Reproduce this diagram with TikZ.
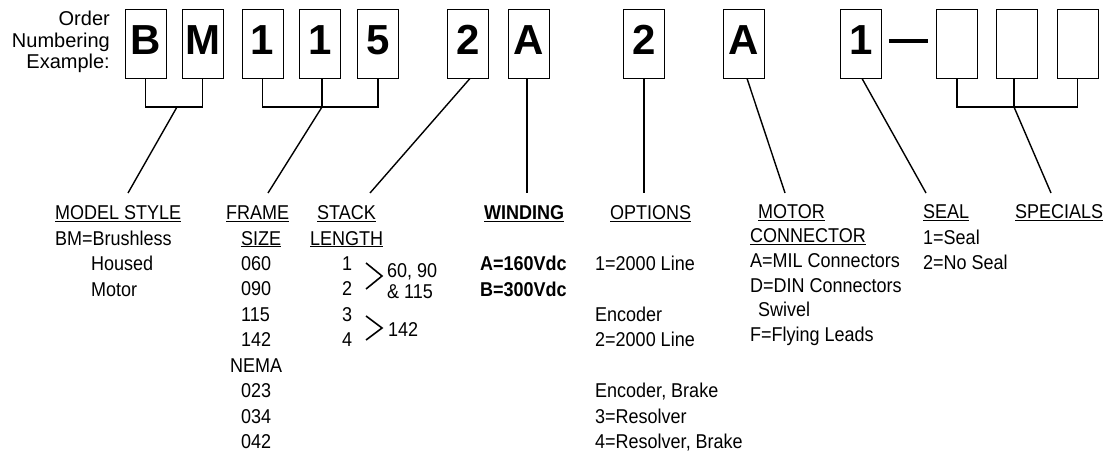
\documentclass[tikz,border=0pt]{standalone}
\usepackage{fontspec}
\setmainfont{Liberation Sans}
\newcommand{\nw}[1]{\scalebox{0.9}[1]{#1}}
\begin{document}
\begin{tikzpicture}[x=1pt,y=-1pt,
  digitbox/.style={draw=black,line width=0.9pt,rectangle,inner sep=0pt,
    minimum width=41pt,minimum height=69pt,text height=30pt,text depth=7pt,
    font=\fontsize{42}{42}\selectfont\bfseries},
  conn/.style={line width=1.4pt},
  bracket/.style={line width=1.6pt},
  chev/.style={line width=1.6pt},
  toplbl/.style={anchor=base east,inner sep=0pt,font=\fontsize{20}{21}\selectfont},
  txt/.style={anchor=base west,inner sep=0pt,font=\fontsize{20}{25.5}\selectfont},
  ctxt/.style={anchor=base,inner sep=0pt,font=\fontsize{20}{25.5}\selectfont},
  btxt/.style={anchor=base west,inner sep=0pt,font=\fontsize{20}{25.5}\selectfont\bfseries}
]
\useasboundingbox (0,0) rectangle (1107,454);
% left label
\node[toplbl] (lo) at (110,26) {Order};
\node[toplbl] (ln) at (110,47.5) {Numbering};
\node[toplbl] (le) at (110,69) {Example:};
% boxes
\node[digitbox] (b1) at (145.5,43.5) {B};
\node[digitbox] (b2) at (202.5,43.5) {M};
\node[digitbox] (f1) at (262.5,43.5) {1};
\node[digitbox] (f2) at (320,43.5) {1};
\node[digitbox] (f3) at (378,43.5) {5};
\node[digitbox] (st) at (468,43.5) {2};
\node[digitbox] (wa) at (529,43.5) {A};
\node[digitbox] (op) at (644,43.5) {2};
\node[digitbox] (mc) at (744,43.5) {A};
\node[digitbox] (se) at (861,43.5) {1};
\node[digitbox] (sp1) at (957,43.5) {};
\node[digitbox] (sp2) at (1017,43.5) {};
\node[digitbox] (sp3) at (1077.5,43.5) {};
% dash
\draw[line width=4pt] ([xshift=7pt,yshift=2.5pt]se.east) -- ([xshift=-8pt,yshift=2.5pt]sp1.west);
% coordinates
\coordinate (brk) at (0,107);
\coordinate (low) at (0,193);
\coordinate (bmj) at (177,107);
\coordinate (msend) at (128,193);
\coordinate (fsend) at (268,193);
\coordinate (slend) at (370,193);
\coordinate (mcend) at (785,193);
\coordinate (seend) at (926,193);
\coordinate (spend) at (1051,193);
% connectors
\draw[bracket] (b1.south) |- (b2.south |- brk) -- (b2.south);
\draw[conn] (bmj) -- (msend);
\draw[bracket] (f1.south) |- (f3.south |- brk) -- (f3.south);
\draw[bracket] ([xshift=2pt]f2.south) -- ([xshift=2pt]f2.south |- brk) coordinate (fj);
\draw[conn] (fj) -- (fsend);
\draw[conn] ([xshift=2pt]st.south) -- (slend);
\draw[conn] ([xshift=-2pt]wa.south) -- ([xshift=-2pt]wa.south |- low);
\draw[conn] (op.south) -- (op.south |- low);
\draw[conn] ([xshift=3pt]mc.south) -- (mcend);
\draw[conn] ([xshift=1pt]se.south) -- (seend);
\draw[bracket] (sp1.south) |- (sp3.south |- brk) -- (sp3.south);
\draw[bracket] ([xshift=-3pt]sp2.south) -- ([xshift=-3pt]sp2.south |- brk) coordinate (spj);
\draw[conn] (spj) -- (spend);
% MODEL STYLE
\node[txt] (ms1) at (55,219.5) {\nw{\underline{MODEL STYLE}}};
\node[txt] (ms2) at (55,245) {\nw{BM=Brushless}};
\node[txt] (ms3) at (91,270) {\nw{Housed}};
\node[txt] (ms4) at (91,296) {\nw{Motor}};
% FRAME SIZE
\node[txt] (fs1) at (226,219.5) {\nw{\underline{FRAME}}};
\node[txt] (fs2) at (241,245) {\nw{\underline{SIZE}}};
\node[txt] (fs3) at (241,270) {\nw{060}};
\node[txt] (fs4) at (241,295.5) {\nw{090}};
\node[txt] (fs5) at (241,321) {\nw{115}};
\node[txt] (fs6) at (241,346.5) {\nw{142}};
\node[txt] (fs7) at (230,372) {\nw{NEMA}};
\node[txt] (fs8) at (241,397.5) {\nw{023}};
\node[txt] (fs9) at (241,423) {\nw{034}};
\node[txt] (fs10) at (241,448.5) {\nw{042}};
% STACK LENGTH
\node[txt] (sl1) at (317,219.5) {\nw{\underline{STACK}}};
\node[txt] (sl2) at (310,245) {\nw{\underline{LENGTH}}};
\node[ctxt] (sl3) at (347,270) {\nw{1}};
\node[ctxt] (sl4) at (347,295.5) {\nw{2}};
\node[ctxt] (sl5) at (347,321) {\nw{3}};
\node[ctxt] (sl6) at (347,346.5) {\nw{4}};
\draw[chev] (366,263) -- (382,276) -- (366,289);
\draw[chev] (366,316) -- (382,328) -- (366,340);
\node[txt] (sl7) at (387,277) {\nw{60, 90}};
\node[txt] (sl8) at (387,298) {\nw{\& 115}};
\node[txt] (sl9) at (388,336) {\nw{142}};
% WINDING
\node[btxt] (wd1) at (484,219.5) {\nw{\underline{WINDING}}};
\node[btxt] (wd2) at (480,270.5) {\nw{A=160Vdc}};
\node[btxt] (wd3) at (480,296) {\nw{B=300Vdc}};
% OPTIONS
\node[txt] (op1) at (610,219.5) {\nw{\underline{OPTIONS}}};
\node[txt] (op2) at (595,270) {\nw{1=2000 Line}};
\node[txt] (op3) at (595,321) {\nw{Encoder}};
\node[txt] (op4) at (595,346.5) {\nw{2=2000 Line}};
\node[txt] (op5) at (595,397.5) {\nw{Encoder, Brake}};
\node[txt] (op6) at (595,423) {\nw{3=Resolver}};
\node[txt] (op7) at (595,448.5) {\nw{4=Resolver, Brake}};
% MOTOR CONNECTOR
\node[txt] (mc1) at (758,218.5) {\nw{\underline{MOTOR}}};
\node[txt] (mc2) at (750,243) {\nw{\underline{CONNECTOR}}};
\node[txt] (mc3) at (750,267.5) {\nw{A=MIL Connectors}};
\node[txt] (mc4) at (750,292) {\nw{D=DIN Connectors}};
\node[txt] (mc5) at (758,316.5) {\nw{Swivel}};
\node[txt] (mc6) at (750,341) {\nw{F=Flying Leads}};
% SEAL
\node[txt] (se1) at (923,218.5) {\nw{\underline{SEAL}}};
\node[txt] (se2) at (923,244) {\nw{1=Seal}};
\node[txt] (se3) at (923,269) {\nw{2=No Seal}};
% SPECIALS
\node[txt] (sp0) at (1015,218.5) {\nw{\underline{SPECIALS}}};
\end{tikzpicture}
\end{document}
